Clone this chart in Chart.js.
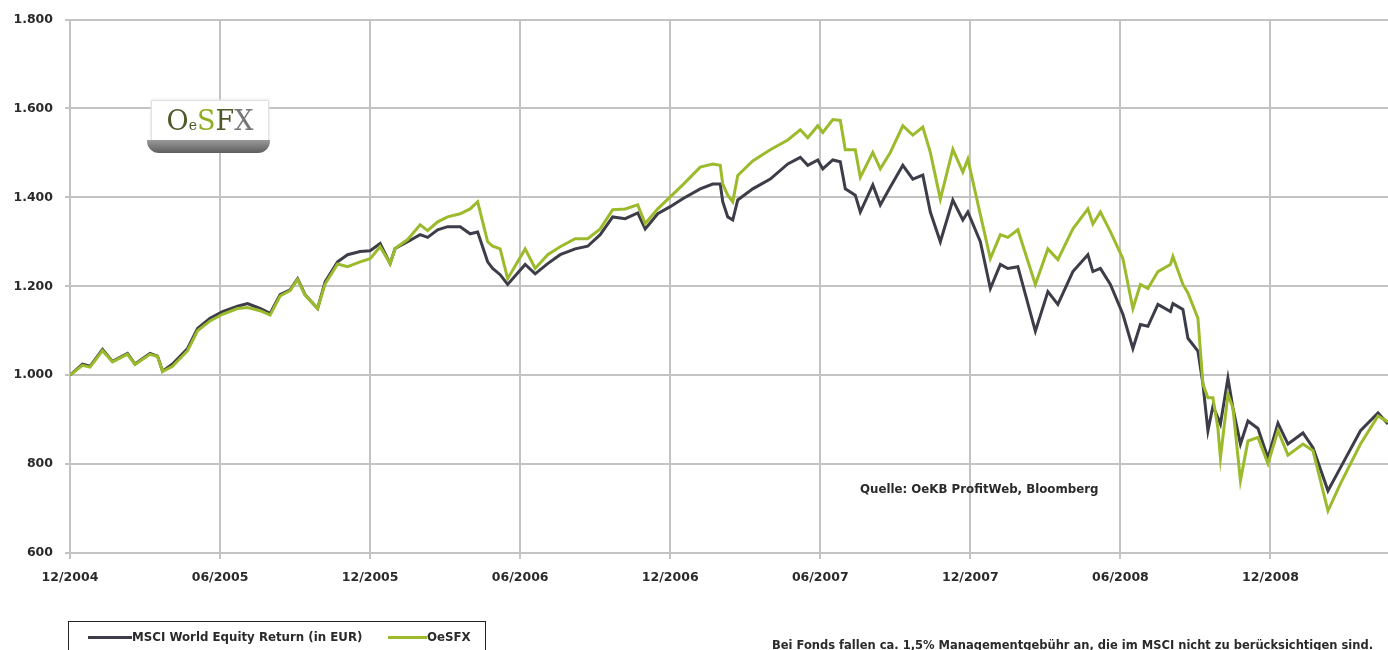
<!DOCTYPE html>
<html>
<head>
<meta charset="utf-8">
<script src="https://cdn.jsdelivr.net/npm/chart.js@4.4.1/dist/chart.umd.min.js"></script>
<style>
  body { margin: 0; background: #fff; }
  #wrap { position: relative; width: 1388px; height: 650px; overflow: hidden; font-family: "DejaVu Sans", sans-serif; }
  #logo { position: absolute; left: 147px; top: 100px; width: 123px; height: 54px; }
  #logo .box { position: absolute; left: 4px; top: 0; width: 116px; height: 40px; background: #fff; border: 1px solid #e2e2e2; box-shadow: 0 0 3px #e0e0e0; font-family: "DejaVu Serif", "Liberation Serif", serif; font-size: 27px; line-height: 40px; text-align: center; color: #4f5a2a; }
  #logo .box .g { color: #8fae22; }
  #logo .box small { font-size: 14px; }
  #logo .bar { position: absolute; left: 0; top: 40px; width: 123px; height: 13px; background: linear-gradient(#9a9a9a, #5e5e5e); border-radius: 0 0 12px 12px; }
  .note { position: absolute; font-weight: bold; font-size: 11.8px; color: #2a2a2a; white-space: nowrap; }
  #legend { position: absolute; left: 68px; top: 621px; width: 418px; height: 40px; border: 1px solid #222; box-sizing: border-box; }
  #legend .sw { position: absolute; top: 14px; height: 3px; }
  #legend .tx { position: absolute; top: 8px; font-weight: bold; font-size: 11.8px; color: #2a2a2a; white-space: nowrap; }
</style>
</head>
<body>
<div id="wrap">
  <canvas id="lineChart" width="1388" height="650"></canvas>
  <div id="logo"><div class="box">O<small>e</small><span class="g">S</span>F<span style="color:#777">X</span></div><div class="bar"></div></div>
  <div class="note" style="left:860px; top:482px;">Quelle: OeKB ProfitWeb, Bloomberg</div>
  <div class="note" style="left:772px; top:638px; font-size:11.5px;">Bei Fonds fallen ca. 1,5% Managementgebühr an, die im MSCI nicht zu berücksichtigen sind.</div>
  <div id="legend">
    <div class="sw" style="left:19px; width:44px; background:#3c3d48;"></div>
    <div class="tx" style="left:63px;">MSCI World Equity Return (in EUR)</div>
    <div class="sw" style="left:319px; width:39px; background:#9bbb2c;"></div>
    <div class="tx" style="left:358px;">OeSFX</div>
  </div>
</div>
<script>
// months since 12/2004
const months = [0, 0.5, 0.8, 1.3, 1.7, 2.3, 2.6, 3.2, 3.5, 3.7, 4.1, 4.7, 5.1, 5.6, 6.1, 6.7, 7.1, 7.6, 8.0, 8.4,
  8.8, 9.1, 9.4, 9.9, 10.2, 10.7, 11.1, 11.6, 12.0, 12.4, 12.8, 13.0, 13.5, 14.0, 14.3, 14.7, 15.1, 15.6, 16.0, 16.3,
  16.7, 16.9, 17.2, 17.5, 18.2, 18.6, 19.1, 19.6, 20.2, 20.7, 21.2, 21.7, 22.2, 22.7, 23.0, 23.5, 24.0, 24.5, 25.2, 25.7,
  26.0, 26.1, 26.3, 26.5, 26.7, 27.3, 28.0, 28.7, 29.2, 29.5, 29.9, 30.1, 30.5, 30.8, 31.0, 31.4, 31.6, 32.1, 32.4, 32.8,
  33.3, 33.7, 34.1, 34.4, 34.8, 35.3, 35.7, 35.9, 36.4, 36.8, 37.2, 37.5, 37.9, 38.6, 39.1, 39.5, 40.1, 40.7, 40.9, 41.2,
  41.6, 42.1, 42.5, 42.8, 43.1, 43.5, 44.0, 44.1, 44.5, 44.7, 45.1, 45.3, 45.5, 45.7, 45.9, 46.0, 46.3, 46.5, 46.8, 47.1,
  47.5, 47.9, 48.3, 48.7, 49.3, 49.7, 50.3, 50.8, 51.6, 52.3, 52.7]

const msci = [1000, 1025, 1020, 1058, 1031, 1049, 1025, 1049, 1043, 1009, 1025, 1060, 1105, 1128, 1143, 1155, 1161, 1150, 1139, 1181,
  1192, 1217, 1181, 1150, 1210, 1255, 1271, 1278, 1280, 1296, 1251, 1285, 1300, 1316, 1310, 1327, 1334, 1334, 1318, 1322,
  1255, 1240, 1226, 1204, 1249, 1228, 1251, 1271, 1284, 1290, 1316, 1356, 1352, 1365, 1329, 1363, 1379, 1397, 1419, 1430,
  1430, 1390, 1356, 1349, 1394, 1419, 1441, 1475, 1490, 1472, 1484, 1464, 1484, 1480, 1419, 1405, 1367, 1428, 1383, 1423,
  1472, 1441, 1450, 1367, 1300, 1394, 1349, 1367, 1300, 1195, 1249, 1240, 1244, 1099, 1188, 1159, 1233, 1271, 1233, 1240,
  1204, 1137, 1060, 1114, 1110, 1159, 1143, 1161, 1148, 1083, 1054, 980, 875, 930, 904, 890, 993, 926, 845, 897,
  880, 814, 892, 845, 870, 837, 740, 792, 875, 915, 890]

const oesfx = [1000, 1022, 1018, 1055, 1030, 1047, 1024, 1047, 1042, 1008, 1020, 1055, 1100, 1122, 1137, 1150, 1152, 1145, 1135, 1178,
  1190, 1215, 1180, 1150, 1205, 1250, 1244, 1255, 1262, 1289, 1251, 1285, 1305, 1338, 1325, 1345, 1356, 1363, 1374, 1390,
  1300, 1290, 1284, 1217, 1284, 1240, 1271, 1289, 1307, 1307, 1329, 1372, 1374, 1383, 1341, 1374, 1401, 1428, 1468, 1475,
  1472, 1430, 1405, 1390, 1449, 1482, 1507, 1529, 1552, 1534, 1561, 1546, 1575, 1573, 1507, 1507, 1445, 1501, 1464, 1501,
  1561, 1540, 1558, 1501, 1396, 1508, 1457, 1486, 1361, 1262, 1316, 1310, 1327, 1204, 1284, 1260, 1329, 1374, 1340, 1367,
  1323, 1262, 1150, 1204, 1195, 1233, 1249, 1267, 1204, 1185, 1128, 980, 949, 949, 880, 814, 957, 926, 763, 852,
  860, 801, 875, 820, 845, 830, 695, 756, 845, 908, 895]

const tickMonths = [0, 6, 12, 18, 24, 30, 36, 42, 48]
const tickLabels = ['12/2004', '06/2005', '12/2005', '06/2006', '12/2006', '06/2007', '12/2007', '06/2008', '12/2008']

const ctx = document.getElementById('lineChart').getContext('2d')

function fmt(v) {
  if (v >= 1000) {
    const s = String(v)
    return s.slice(0, s.length - 3) + '.' + s.slice(-3)
  }
  return String(v)
}

const gridColor = '#c3c3c3'
const tickFont = { family: '"DejaVu Sans", sans-serif', size: 12.5, weight: 'bold' }

const lineChart = new Chart(ctx, {
  type: 'line',
  data: {
    datasets: [{
      label: 'OeSFX',
      data: months.map((m, i) => ({ x: m, y: oesfx[i] })),
      borderColor: '#9bbb2c',
      borderWidth: 3,
      pointRadius: 0,
      tension: 0,
      order: 0
    }, {
      label: 'MSCI World Equity Return (in EUR)',
      data: months.map((m, i) => ({ x: m, y: msci[i] })),
      borderColor: '#3c3d48',
      borderWidth: 3,
      pointRadius: 0,
      tension: 0,
      order: 1
    }]
  },
  options: {
    responsive: false,
    animation: false,
    layout: { padding: { top: 17, left: 0, right: 0, bottom: 57 } },
    plugins: { legend: { display: false }, tooltip: { enabled: false } },
    scales: {
      x: {
        type: 'linear',
        min: 0,
        max: 52.7,
        afterBuildTicks: (scale) => { scale.ticks = tickMonths.map(v => ({ value: v })) },
        afterFit: (scale) => { scale.height = 40 },
        ticks: {
          color: '#2a2a2a',
          font: tickFont,
          padding: 11,
          maxRotation: 0,
          callback: (v) => tickLabels[tickMonths.indexOf(v)]
        },
        grid: { color: gridColor, lineWidth: 2, tickLength: 6 },
        border: { color: gridColor, width: 2 }
      },
      y: {
        min: 600,
        max: 1800,
        afterFit: (scale) => { scale.width = 70 },
        ticks: { stepSize: 200, color: '#2a2a2a', font: tickFont, padding: 12, callback: (v) => fmt(v) },
        grid: { color: gridColor, lineWidth: 2, tickLength: 5 },
        border: { color: gridColor, width: 2 }
      }
    }
  }
})
</script>
</body>
</html>
